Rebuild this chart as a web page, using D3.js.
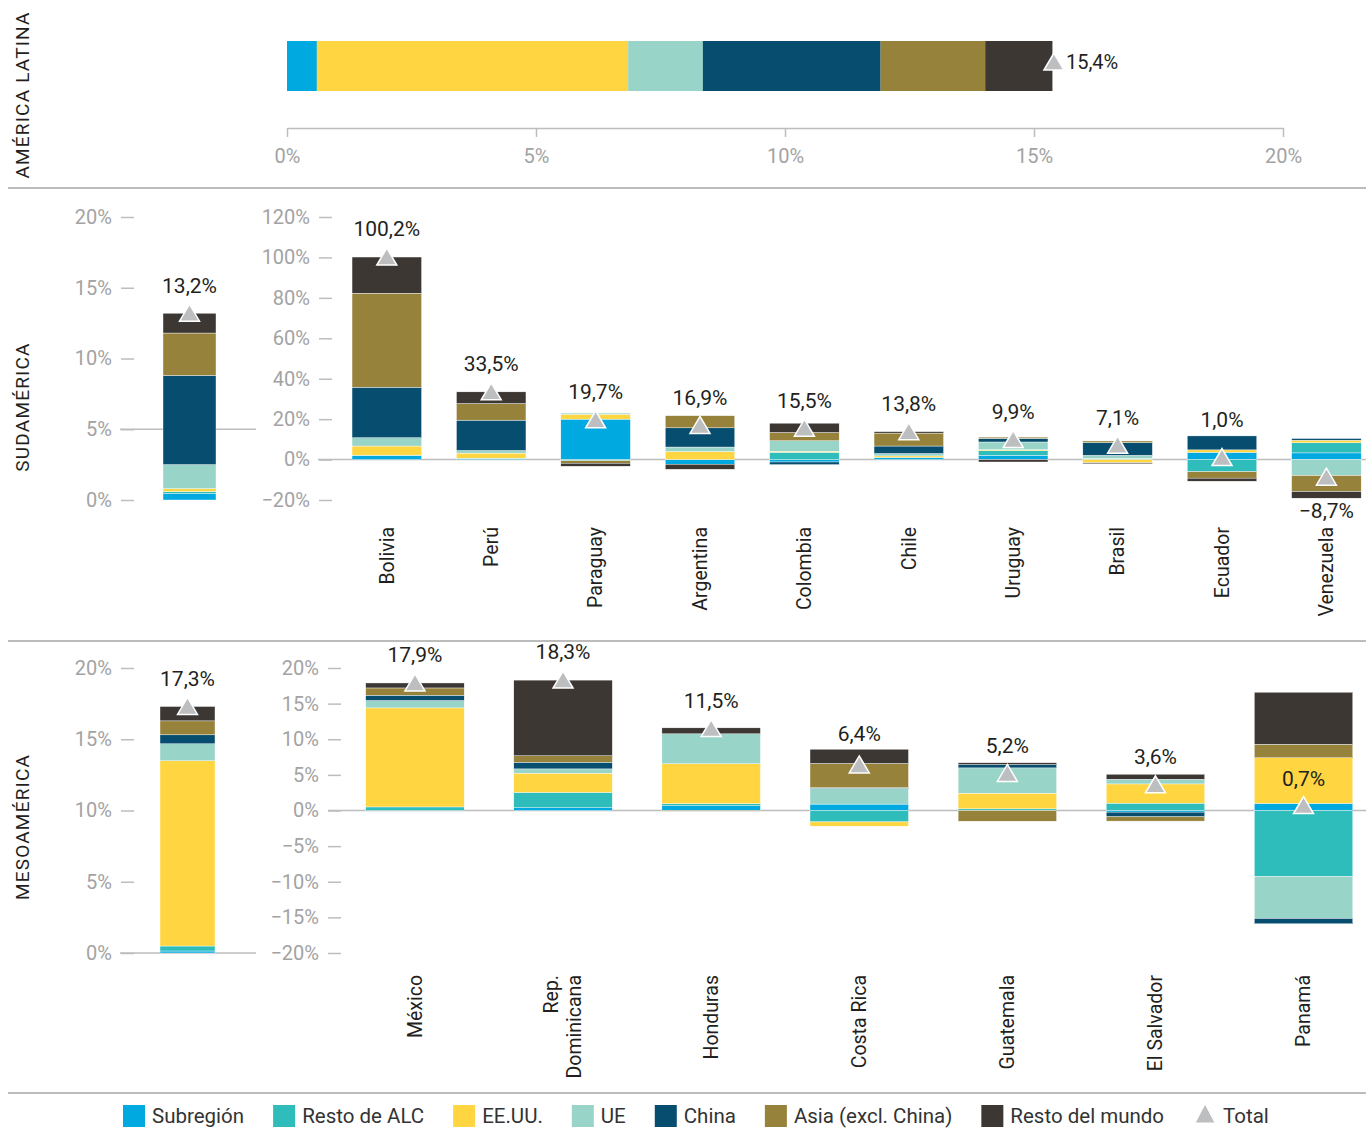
<!DOCTYPE html>
<html>
<head>
<meta charset="utf-8">
<script src="https://cdn.jsdelivr.net/npm/d3@7"></script>
<style>
  body { margin: 0; background: #fff; }
  svg { display: block; font-family: Roboto, "Noto Sans", sans-serif; }
</style>
</head>
<body>
<script>
// series (stack order from the baseline)
var series = ["Subregión", "Resto de ALC", "EE.UU.", "UE", "China", "Asia (excl. China)", "Resto del mundo"];
var seriesColors = ["#00a9e0", "#2ebdbb", "#ffd641", "#98d4c8", "#064d6f", "#96823a", "#3c3733"];

// América Latina
var latamValues = [0.6, 0.0, 6.25, 1.5, 3.57, 2.1, 1.35];
var latamTotal = 15.4;

// Sudamérica
var sudAggValues = [0.45, 0.15, 0.2, 1.7, 6.3, 3.0, 1.4];
var sudAggTotal = 13.2;
var sudCountries = ["Bolivia", "Perú", "Paraguay", "Argentina", "Colombia", "Chile", "Uruguay", "Brasil", "Ecuador", "Venezuela"];
var sudValues = [
  [2.0, 0.2, 4.5, 4.1, 25.0, 46.5, 17.9],
  [0.5, 0.2, 2.5, 1.3, 15.0, 8.2, 5.8],
  [20.0, -0.6, 2.4, 0.6, 0.0, -1.2, -1.5],
  [-2.3, 0.0, 4.0, 2.2, 9.5, 6.0, -2.5],
  [-1.2, 3.6, 0.5, 5.2, -1.3, 4.1, 4.6],
  [1.0, 0.0, 0.8, 1.2, 3.7, 6.4, 0.7],
  [2.1, 2.3, 0.5, 3.8, 1.8, 0.6, -1.2],
  [0.3, 0.3, -1.6, 1.5, 6.3, 0.8, -0.5],
  [3.6, -6.0, 1.2, 0.0, 6.9, -3.2, -1.5],
  [3.3, 5.0, 1.3, -7.9, 0.8, -7.9, -3.3]
];
var sudTotals = [100.2, 33.5, 19.7, 16.9, 15.5, 13.8, 9.9, 7.1, 1.0, -8.7];

// Mesoamérica
var mesoAggValues = [0.14, 0.35, 13.0, 1.19, 0.63, 0.98, 1.01];
var mesoAggTotal = 17.3;
var mesoCountries = ["México", "Rep. Dominicana", "Honduras", "Costa Rica", "Guatemala", "El Salvador", "Panamá"];
var mesoValues = [
  [0.0, 0.5, 13.9, 1.03, 0.75, 1.02, 0.7],
  [0.38, 2.16, 2.7, 0.6, 0.94, 0.9, 10.62],
  [0.66, 0.3, 5.6, 4.2, 0.0, -0.1, 0.84],
  [0.9, -1.6, -0.6, 2.2, 0.1, 3.4, 2.0],
  [0.0, 0.23, 2.2, 3.55, 0.47, -1.5, 0.25],
  [-0.23, 1.03, 2.7, 0.66, -0.66, -0.6, 0.7],
  [1.0, -9.25, 6.4, -5.9, -0.75, 1.9, 7.3]
];
var mesoTotals = [17.9, 18.3, 11.5, 6.4, 5.2, 3.6, 0.7];

// tick labels
var latamTicks = [0, 5, 10, 15, 20];
var miniTicks = [0, 5, 10, 15, 20];
var sudTicks = [-20, 0, 20, 40, 60, 80, 100, 120];
var mesoTicks = [-20, -15, -10, -5, 0, 5, 10, 15, 20];

var fmt = function(v) { return d3.format(".1f")(v).replace(".", ",").replace("-", "\u2212") + "%"; };
var tickFmt = function(v) { return String(v).replace("-", "\u2212") + "%"; };

var color = d3.scaleOrdinal().domain(series).range(seriesColors);
var stack = d3.stack().keys(series).offset(d3.stackOffsetDiverging);

function toRows(names, values) {
  return names.map(function(n, i) {
    var row = { name: n };
    series.forEach(function(s, j) { row[s] = values[i][j]; });
    return row;
  });
}

function triangle(cx, cy, h) {
  h = h || 9;
  return "M" + cx + "," + (cy - h) + "L" + (cx + 10) + "," + (cy + 8) + "L" + (cx - 10) + "," + (cy + 8) + "Z";
}

var svg = d3.select("body").append("svg")
    .attr("width", 1366)
    .attr("height", 1128);

var GRID = "#bdbdbd", TICKTXT = "#a3a3a3", TXT = "#231f20", TRI = "#bcbec0";

//******************************************************************************
//****************************** Section titles / separators *******************
[["AMÉRICA LATINA", 95], ["SUDAMÉRICA", 407], ["MESOAMÉRICA", 827]].forEach(function(t) {
  svg.append("text")
    .attr("transform", "translate(29," + t[1] + ") rotate(-90)")
    .attr("text-anchor", "middle")
    .attr("font-size", "19px")
    .attr("letter-spacing", "1.2px")
    .attr("fill", TXT)
    .text(t[0]);
});

[188, 641, 1093].forEach(function(y) {
  svg.append("line")
    .attr("x1", 8).attr("x2", 1366)
    .attr("y1", y).attr("y2", y)
    .style("stroke", "#a6a6a6")
    .style("stroke-width", 1.5);
});

//******************************************************************************
//****************************** América Latina ********************************
var xLatam = d3.scaleLinear().domain([0, 20]).range([287, 1283]);
var yLatam = d3.scaleBand().domain(["América Latina"]).range([41, 91]);
var latamStack = stack(toRows(["América Latina"], [latamValues]));

svg.append("g").selectAll("rect")
    .data(latamStack)
    .enter().append("rect")
      .attr("x", function(d) { return xLatam(d[0][0]); })
      .attr("width", function(d) { return xLatam(d[0][1]) - xLatam(d[0][0]); })
      .attr("y", yLatam("América Latina"))
      .attr("height", yLatam.bandwidth())
      .attr("fill", function(d) { return color(d.key); });

var latAxis = svg.append("g")
    .attr("transform", "translate(0,128)")
    .call(d3.axisBottom(xLatam).tickValues(latamTicks).tickFormat(tickFmt).tickSize(9).tickSizeOuter(0).tickPadding(12));
latAxis.select(".domain").style("stroke", GRID).style("stroke-width", 1.5);
latAxis.selectAll(".tick line").style("stroke", GRID).style("stroke-width", 1.5);
latAxis.selectAll("text").attr("font-size", "20px").attr("fill", TICKTXT).attr("font-family", "Roboto");

var latTriY = yLatam("América Latina") + yLatam.bandwidth() / 2 - 4;
svg.append("path")
    .attr("d", triangle(xLatam(latamTotal), latTriY))
    .attr("fill", TRI).attr("stroke", "#fff").attr("stroke-width", 1.5);
svg.append("text")
    .attr("x", xLatam(latamTotal) + 12)
    .attr("y", latTriY)
    .attr("dy", "0.35em")
    .attr("font-size", "20px")
    .attr("fill", TXT)
    .text(fmt(latamTotal));

//******************************************************************************
//****************************** vertical stacked panels ***********************
function leftAxis(scale, ticks, x) {
  var g = svg.append("g")
      .attr("transform", "translate(" + x + ",0)")
      .call(d3.axisLeft(scale).tickValues(ticks).tickFormat(tickFmt).tickSize(13).tickPadding(9));
  g.select(".domain").remove();
  g.selectAll(".tick line").style("stroke", GRID).style("stroke-width", 1.5);
  g.selectAll("text").attr("font-size", "20px").attr("fill", TICKTXT).attr("font-family", "Roboto");
}

function drawBars(rows, totals, xScale, yScale) {
  var layers = stack(rows);
  svg.append("g").selectAll("g")
      .data(layers)
      .enter().append("g")
        .attr("fill", function(d) { return color(d.key); })
      .selectAll("rect")
      .data(function(d) { return d; })
      .enter().append("rect")
        .attr("x", function(d) { return xScale(d.data.name); })
        .attr("width", xScale.bandwidth())
        .attr("y", function(d) { return yScale(d[1]); })
        .attr("height", function(d) { return Math.abs(yScale(d[0]) - yScale(d[1])); })
        .attr("stroke", "#fff")
        .attr("stroke-width", 0.4);

  rows.forEach(function(r, i) {
    var t = totals[i];
    var pos = d3.sum(series, function(s) { return Math.max(0, r[s]); });
    var neg = d3.sum(series, function(s) { return Math.min(0, r[s]); });
    var cx = xScale(r.name) + xScale.bandwidth() / 2;
    var triY = yScale(t);
    var top = yScale(pos), bottom = yScale(neg);
    var ly;
    if (t >= 0) {
      ly = (triY - top < 30) ? Math.min(triY - 28, top - 16) : triY - 27;
    } else {
      ly = Math.max(triY + 32, bottom + 12);
    }
    svg.append("path")
        .attr("d", triangle(cx, triY))
        .attr("fill", TRI).attr("stroke", "#fff").attr("stroke-width", 1.5);
    svg.append("text")
        .attr("x", cx)
        .attr("y", ly)
        .attr("dy", "0.35em")
        .attr("text-anchor", "middle")
        .attr("font-size", "21px")
        .attr("fill", TXT)
        .text(fmt(t));
  });
}

function hLine(x1, x2, y) {
  svg.append("line")
    .attr("x1", x1).attr("x2", x2)
    .attr("y1", y).attr("y2", y)
    .style("stroke", GRID)
    .style("stroke-width", 1.5);
}

function categoryLabels(names, xScale, yTop) {
  names.forEach(function(n) {
    var parts = n === "Rep. Dominicana" ? ["Rep.", "Dominicana"] : [n];
    var cx = xScale(n) + xScale.bandwidth() / 2;
    var txt = svg.append("text")
        .attr("transform", "translate(" + cx + "," + yTop + ") rotate(-90)")
        .attr("text-anchor", "end")
        .attr("font-size", "19.5px")
        .attr("fill", TXT);
    parts.forEach(function(p, k) {
      txt.append("tspan")
        .attr("x", 0)
        .attr("y", (k - (parts.length - 1) / 2) * 23)
        .attr("dy", "0.35em")
        .text(p);
    });
  });
}

//****************************** Sudamérica ************************************
var ySudMini = d3.scaleLinear().domain([0, 20]).range([500, 217]);
var xSudMini = d3.scaleBand().domain(["Sudamérica"]).range([163, 216]);
leftAxis(ySudMini, miniTicks, 134);
hLine(120, 256, ySudMini(5));
drawBars(toRows(["Sudamérica"], [sudAggValues]), [sudAggTotal], xSudMini, ySudMini);

var ySud = d3.scaleLinear().domain([-20, 120]).range([500, 217]);
var xSud = d3.scaleBand().domain(sudCountries).range([334.6, 1378.6]).paddingInner(0.334).paddingOuter(0.167);
leftAxis(ySud, sudTicks, 332);
hLine(318, 1366, ySud(0));
drawBars(toRows(sudCountries, sudValues), sudTotals, xSud, ySud);
categoryLabels(sudCountries, xSud, 527);

//****************************** Mesoamérica ***********************************
var yMesoMini = d3.scaleLinear().domain([0, 20]).range([953, 668]);
var xMesoMini = d3.scaleBand().domain(["Mesoamérica"]).range([160, 215]);
leftAxis(yMesoMini, miniTicks, 134);
hLine(120, 256, yMesoMini(0));
drawBars(toRows(["Mesoamérica"], [mesoAggValues]), [mesoAggTotal], xMesoMini, yMesoMini);

var yMeso = d3.scaleLinear().domain([-20, 20]).range([953, 668]);
var xMeso = d3.scaleBand().domain(mesoCountries).range([340.9, 1377.6]).paddingInner(0.335).paddingOuter(0.1675);
leftAxis(yMeso, mesoTicks, 341);
hLine(328, 1366, yMeso(0));
drawBars(toRows(mesoCountries, mesoValues), mesoTotals, xMeso, yMeso);
categoryLabels(mesoCountries, xMeso, 975);

//******************************************************************************
//****************************** Legend ****************************************
var legend = svg.append("g").attr("transform", "translate(0,1116)");
var lx = 123;
series.concat(["Total"]).forEach(function(s) {
  if (s === "Total") {
    legend.append("path")
      .attr("d", triangle(lx + 12, -1, 11))
      .attr("fill", TRI).attr("stroke", "#fff").attr("stroke-width", 1);
  } else {
    legend.append("rect")
      .attr("x", lx).attr("y", -11)
      .attr("width", 22).attr("height", 22)
      .attr("fill", color(s));
  }
  var t = legend.append("text")
      .attr("x", lx + (s === "Total" ? 30 : 29))
      .attr("y", 0)
      .attr("dy", "0.35em")
      .attr("font-size", "20.5px")
      .attr("fill", "#333")
      .text(s);
  lx += 29 + t.node().getComputedTextLength() + 29;
});
</script>
</body>
</html>
